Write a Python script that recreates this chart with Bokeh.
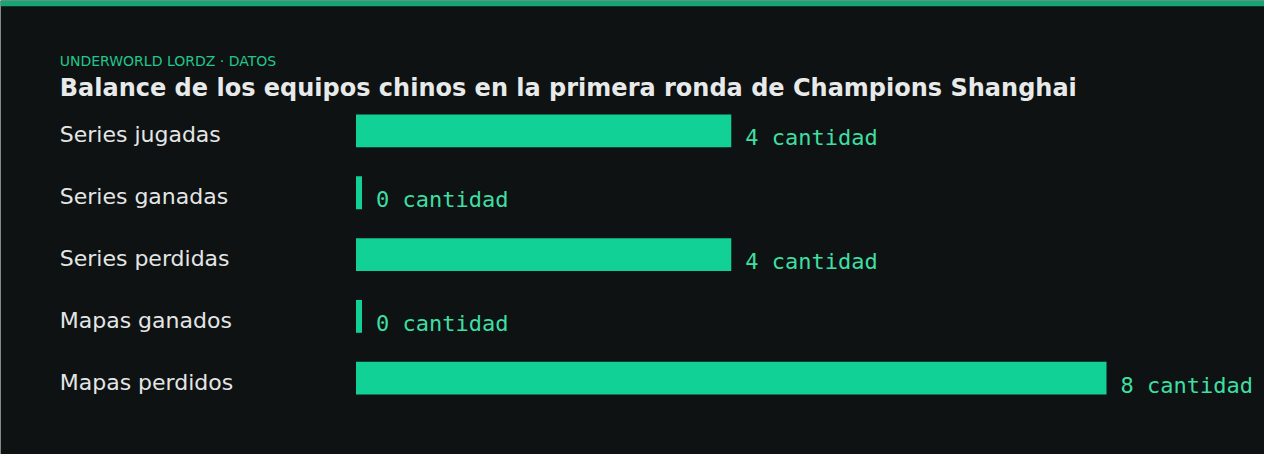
import numpy as np
from bokeh.plotting import figure
from bokeh.models import ColumnDataSource, Range1d, Label, BoxAnnotation
from bokeh.core.properties import value
from bokeh.embed import file_html
from bokeh.resources import INLINE

# Data
categories = ["Series jugadas", "Series ganadas", "Series perdidas",
              "Mapas ganados", "Mapas perdidos"]
counts = [4, 0, 4, 0, 8]
unit = "cantidad"
kicker = "UNDERWORLD LORDZ · DATOS"
title = "Balance de los equipos chinos en la primera ronda de Champions Shanghai"

# Layout: measured on a 1280x470 canvas, scaled to the figure size
W, H = 1264, 454
SX, SY = W / 1280, H / 470
PX_PER_UNIT = 95 * SX
BAR_LEFT = 360 * SX      # where value 0 sits
LABEL_LEFT = 60 * SX     # left edge of texts
FIRST_ROW = 135 * SY     # centre of the first row from top
ROW_STEP = 64 * SY
BAR_PX = 34 * SY
MIN_BAR_PX = 6

BG = "#0e1212"
GREEN = "#12d196"
GREEN_TXT = "#3ddfa3"
GREEN_DARK = "#14a673"

idx = np.arange(len(categories))
right = np.maximum(np.array(counts, dtype=float), MIN_BAR_PX / PX_PER_UNIT)
source = ColumnDataSource(dict(
    y=idx,
    cat=categories,
    right=right,
    label=[f"{c} {unit}" for c in counts],
    label_x=[(LABEL_LEFT - BAR_LEFT) / PX_PER_UNIT] * len(categories),
))

p = figure(
    width=W, height=H,
    x_range=Range1d(-BAR_LEFT / PX_PER_UNIT, (W - BAR_LEFT) / PX_PER_UNIT),
    y_range=Range1d((H - FIRST_ROW) / ROW_STEP, -FIRST_ROW / ROW_STEP),
    x_axis_location=None, y_axis_location=None,
    toolbar_location=None, tools="",
    min_border=0,
    background_fill_color=BG, border_fill_color=BG,
    output_backend="svg",
)
p.outline_line_color = None
p.grid.visible = False

# green strip along the top
p.add_layout(BoxAnnotation(top=H, bottom=H - 6 * SY, top_units="screen", bottom_units="screen",
                           fill_color=GREEN_DARK, fill_alpha=1, line_color=None))

p.hbar(y="y", left=0, right="right", height=BAR_PX / ROW_STEP, source=source,
       fill_color=GREEN, line_color=None)

p.text(x="label_x", y="y", text="cat", source=source, y_offset=4,
       text_font=value("DejaVu Sans"), text_font_size="22px",
       text_color="#e4e6e6", text_baseline="alphabetic", text_align="left")

p.text(x="right", y="y", text="label", source=source, x_offset=14, y_offset=7,
       text_font=value("DejaVu Sans Mono"), text_font_size="22px",
       text_color=GREEN_TXT, text_baseline="alphabetic", text_align="left")

p.add_layout(Label(x=LABEL_LEFT, y=H - 63 * SY, x_units="screen", y_units="screen",
                   text=kicker, text_font="DejaVu Sans", text_font_size="14px",
                   text_color="#22c78c", text_baseline="alphabetic"))
p.add_layout(Label(x=LABEL_LEFT, y=H - 91 * SY, x_units="screen", y_units="screen",
                   text=title, text_font="DejaVu Sans", text_font_size="24px",
                   text_font_style="bold", text_color="#e8eaea",
                   text_baseline="alphabetic"))

open("out.html", "w").write(file_html(p, INLINE))
